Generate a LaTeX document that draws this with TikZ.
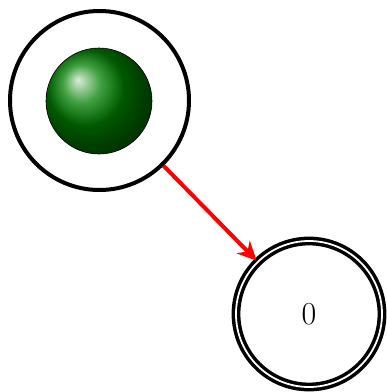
\documentclass[tikz,border=0pt]{standalone}
\usetikzlibrary{arrows.meta}
\begin{document}
\begin{tikzpicture}[x=1pt,y=-1pt,
  statebox/.style={circle, draw=black, line width=4pt, inner sep=0pt},
  finalbox/.style={circle, draw=black, line width=3.5pt, double=white, double distance=1.8pt, inner sep=0pt},
  ballbox/.style={circle, draw=black, line width=0.6pt, ball color=green!50!black, inner sep=0pt},
  edge/.style={draw=red, line width=4pt, -{Stealth[length=19pt,width=18pt,inset=6pt]}}]
\useasboundingbox (0,0) rectangle (387,392);
\node[statebox, minimum size=179pt] (s) at (99.5,100.5) {};
\node[ballbox, minimum size=106pt] (b) at (99,101) {};
\node[finalbox, minimum size=146pt, font=\fontsize{32}{38}\selectfont] (f) at (309,314) {0};
\draw[edge] (s) -- (f);
\end{tikzpicture}
\end{document}
